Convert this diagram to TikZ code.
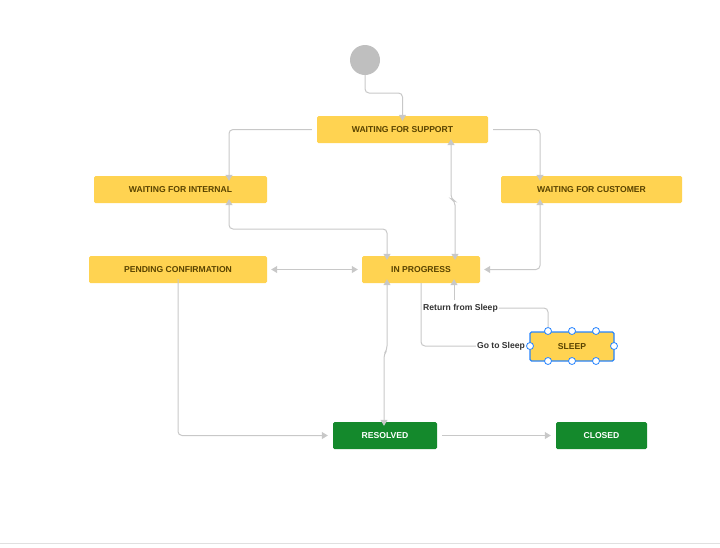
\documentclass[tikz,border=0pt]{standalone}
\usepackage{fontspec}
\setmainfont{Liberation Sans}
\usetikzlibrary{arrows.meta}
\definecolor{yel}{HTML}{FFD351}
\definecolor{ytext}{HTML}{594300}
\definecolor{grn}{HTML}{14892C}
\definecolor{edge}{HTML}{C8C8C8}
\definecolor{sel}{HTML}{2684FF}
\begin{document}
\begin{tikzpicture}[x=1pt,y=-1pt,
  st/.style={fill=yel,rounded corners=1.5pt,minimum height=27pt,inner sep=0pt,font=\fontsize{8.6}{10}\selectfont\bfseries,text=ytext},
  gst/.style={fill=grn,rounded corners=1.5pt,minimum height=27pt,inner sep=0pt,font=\fontsize{8.6}{10}\selectfont\bfseries,text=white},
  ed/.style={draw=edge,line width=1pt,rounded corners=4pt,-{Triangle[width=7pt,length=6pt]}},
  bd/.style={ed,{Triangle[width=7pt,length=6pt]}-{Triangle[width=7pt,length=6pt]}},
  lab/.style={font=\fontsize{8.6}{10}\selectfont\bfseries,text=black!80,inner sep=1pt},
  hd/.style={circle,draw=sel,fill=white,line width=0.8pt,minimum size=7pt,inner sep=0pt}]
\useasboundingbox (0,0) rectangle (720,547);
\draw[black!12,line width=0.8pt] (0,543) -- (720,543);
\node[circle,fill=black!25,minimum size=30pt,inner sep=0pt] (start) at (365,60) {};
\node[st,minimum width=171pt] (wfs) at (402.5,129.5) {WAITING FOR SUPPORT};
\node[st,minimum width=173pt] (wfi) at (180.5,189.5) {WAITING FOR INTERNAL};
\node[st,minimum width=181pt] (wfc) at (591.5,189.5) {WAITING FOR CUSTOMER};
\node[st,minimum width=178pt] (pc) at (178,269.5) {PENDING CONFIRMATION};
\node[st,minimum width=118pt] (ip) at (421,269.5) {IN PROGRESS};
\node[st,minimum width=84pt,minimum height=29pt,draw=sel,line width=1.2pt] (sl) at (572,346.5) {SLEEP};
\node[gst,minimum width=104pt] (res) at (385,435.5) {RESOLVED};
\node[gst,minimum width=91pt] (cl) at (601.5,435.5) {CLOSED};
\foreach \x [count=\i] in {548,572,596}{
  \node[hd] (ht\i) at (\x,331) {};
  \node[hd] (hb\i) at (\x,361) {};}
\node[hd] (hl) at (530,346) {};
\node[hd] (hr) at (614,346) {};
% edges
\draw[ed] (start.south) |- (383,93) -| ([yshift=-5pt]wfs.north);
\draw[ed] ([xshift=-5pt]wfs.west) -| ([xshift=48.5pt,yshift=-5pt]wfi.north);
\draw[ed] ([xshift=5pt]wfs.east) -| ([xshift=-51.5pt,yshift=-5pt]wfc.north);
\draw[bd] ([xshift=48.5pt,yshift=4pt]wfs.south) -- (451,199) -- (455,201) -- ([xshift=34pt,yshift=-4pt]ip.north);
\draw[bd] ([xshift=48.5pt,yshift=4pt]wfi.south) |- (387,229) -- ([xshift=-34pt,yshift=-4pt]ip.north);
\draw[bd] ([xshift=4pt]pc.east) -- ([xshift=-4pt]ip.west);
\draw[bd] ([xshift=-51.5pt,yshift=4pt]wfc.south) |- ([xshift=4pt]ip.east);
\draw[bd] ([xshift=-34pt,yshift=4pt]ip.south) -- (387,350) -- (384,354) -- ([xshift=-1pt,yshift=-4pt]res.north);
\draw[ed] ([yshift=4pt]pc.south) |- ([xshift=-5pt]res.west);
\draw[ed] ([xshift=5pt]res.east) -- ([xshift=-5pt]cl.west);
\node[lab,anchor=east] (gts) at (hl.west) {Go to Sleep};
\draw[ed,-] (ip.south) |- (gts.west);
\node[lab] (rfs) at (460.5,308) {Return from Sleep};
\draw[ed,-] (ht1.north) |- (rfs.east);
\coordinate (rt) at (454,300);
\draw[ed] (rt) -- ([xshift=33pt,yshift=4pt]ip.south);
\end{tikzpicture}
\end{document}
